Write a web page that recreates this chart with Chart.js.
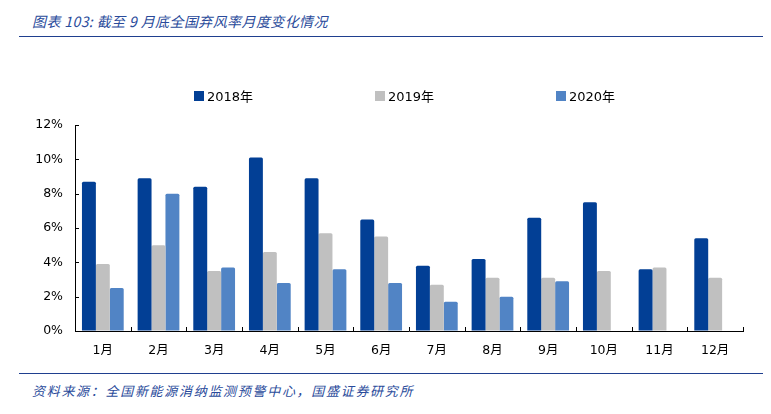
<!DOCTYPE html>
<html lang="zh-CN">
<head>
  <meta charset="UTF-8">
  <title>弃风率月度变化</title>
  <script src="https://cdn.jsdelivr.net/npm/chart.js@4.4.1/dist/chart.umd.min.js"></script>
  <style>
    body {
      margin: 0;
      width: 771px;
      height: 414px;
      position: relative;
      background: #fff;
      overflow: hidden;
      font-family: "DejaVu Sans", "Noto Sans CJK SC", sans-serif;
    }
    .title {
      position: absolute;
      left: 32px;
      top: 11px;
      font-size: 14px;
      font-style: italic;
      letter-spacing: 0.4px;
      color: #2a4b9b;
      font-family: "Noto Sans CJK SC", sans-serif;
      white-space: nowrap;
    }
    .rule {
      position: absolute;
      left: 19px;
      width: 744px;
      height: 0;
      border-top: 1.5px solid #1f3f8f;
    }
    .source {
      position: absolute;
      left: 32px;
      top: 381px;
      font-size: 13px;
      font-style: italic;
      letter-spacing: 1.7px;
      color: #2a4b9b;
      font-family: "Noto Sans CJK SC", sans-serif;
      white-space: nowrap;
    }
    #chartBox {
      position: absolute;
      left: 0;
      top: 40px;
      width: 771px;
      height: 330px;
    }
    #legend {
      position: absolute;
      top: 86px;
      left: 0;
      width: 771px;
      height: 18px;
    }
    .legend-item {
      position: absolute;
      display: flex;
      align-items: center;
      font-size: 13px;
      color: #000;
      white-space: nowrap;
    }
    .legend-item span.box {
      display: inline-block;
      width: 10px;
      height: 10px;
      margin-right: 3px;
    }
  </style>
</head>
<body>
  <div class="title">图表 103: 截至 9 月底全国弃风率月度变化情况</div>
  <div class="rule" style="top:36px"></div>
  <div id="chartBox"><canvas id="curtailChart"></canvas></div>
  <div id="legend"></div>
  <div class="rule" style="top:373px"></div>
  <div class="source">资料来源：全国新能源消纳监测预警中心，国盛证券研究所</div>

  <script>
    const months = ['1月', '2月', '3月', '4月', '5月', '6月', '7月', '8月', '9月', '10月', '11月', '12月'];
    const rate2018 = [8.7, 8.9, 8.4, 10.1, 8.9, 6.5, 3.8, 4.2, 6.6, 7.5, 3.6, 5.4];
    const rate2019 = [3.9, 5.0, 3.5, 4.6, 5.7, 5.5, 2.7, 3.1, 3.1, 3.5, 3.7, 3.1];
    const rate2020 = [2.5, 8.0, 3.7, 2.8, 3.6, 2.8, 1.7, 2.0, 2.9, null, null, null];
    const yTicks = [0, 2, 4, 6, 8, 10, 12];
    const legendLeft = [194, 375, 556];

    const tickFont = { family: '"DejaVu Sans", "Noto Sans CJK SC", sans-serif', size: 12.5 };

    // short tick marks pointing into the plot, like the original
    const innerTicks = {
      id: 'innerTicks',
      afterDraw(chart) {
        const { ctx, scales: { x, y } } = chart;
        ctx.save();
        ctx.strokeStyle = '#000';
        ctx.lineWidth = 1;
        ctx.beginPath();
        yTicks.forEach((v) => {
          const py = Math.round(y.getPixelForValue(v)) + 0.5;
          ctx.moveTo(x.left, py);
          ctx.lineTo(x.left + 4, py);
        });
        for (let i = 0; i < months.length; i++) {
          const px = Math.round(x.getPixelForValue(i + 0.5)) + 0.5;
          ctx.moveTo(px, y.bottom);
          ctx.lineTo(px, y.bottom - 4);
        }
        ctx.stroke();
        ctx.restore();
      }
    };

    const buildLegend = (chart) => {
      const box = document.getElementById('legend');
      box.innerHTML = '';
      chart.data.datasets.forEach((ds, i) => {
        const item = document.createElement('div');
        item.className = 'legend-item';
        item.style.left = legendLeft[i] + 'px';
        const sw = document.createElement('span');
        sw.className = 'box';
        sw.style.background = ds.backgroundColor;
        item.appendChild(sw);
        item.appendChild(document.createTextNode(ds.label));
        box.appendChild(item);
      });
    };

    const ctx = document.getElementById('curtailChart').getContext('2d');
    const chart = new Chart(ctx, {
      type: 'bar',
      data: {
        labels: months,
        datasets: [
          { label: '2018年', data: rate2018, backgroundColor: '#023f95' },
          { label: '2019年', data: rate2019, backgroundColor: '#c0c0c0' },
          { label: '2020年', data: rate2020, backgroundColor: '#5184c5' }
        ]
      },
      options: {
        responsive: true,
        maintainAspectRatio: false,
        animation: false,
        layout: { padding: { top: 85, right: 28, left: 0, bottom: 0 } },
        datasets: {
          bar: { categoryPercentage: 0.75, barPercentage: 1.0, borderRadius: 1.5 }
        },
        plugins: {
          legend: { display: false },
          tooltip: { enabled: false }
        },
        scales: {
          x: {
            grid: { display: true, drawOnChartArea: false, drawTicks: false },
            border: { display: true, color: '#000', width: 1 },
            ticks: { color: '#000', font: tickFont, padding: 12, maxRotation: 0 },
            afterFit: (scale) => { scale.height = 39; }
          },
          y: {
            min: 0,
            max: 12,
            grid: { display: true, drawOnChartArea: false, drawTicks: false },
            border: { display: true, color: '#000', width: 1 },
            ticks: {
              stepSize: 2,
              color: '#000',
              font: tickFont,
              padding: 12,
              callback: (v) => v + '%'
            },
            afterFit: (scale) => { scale.width = 75; }
          }
        }
      },
      plugins: [innerTicks]
    });

    buildLegend(chart);
  </script>
</body>
</html>
